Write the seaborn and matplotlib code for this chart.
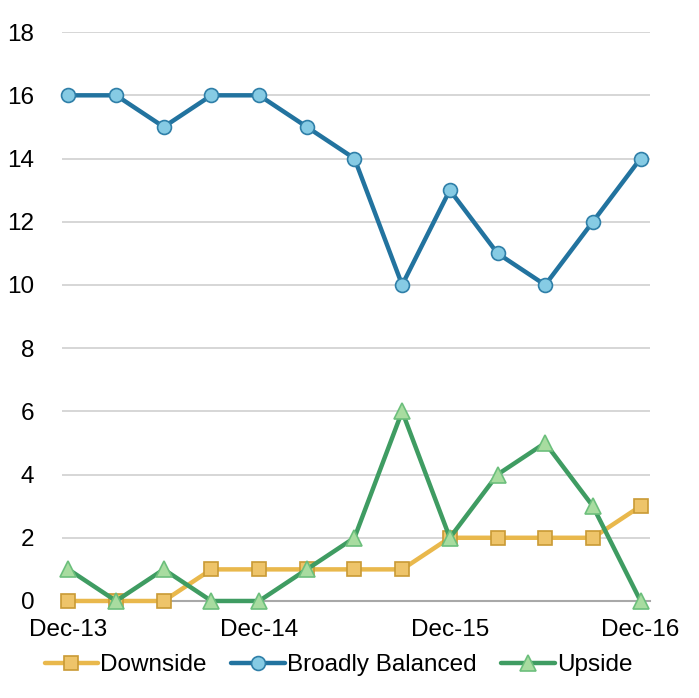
import numpy as np
import pandas as pd
import seaborn as sns
import matplotlib.pyplot as plt

# Data
quarters = ['Dec-13', 'Mar-14', 'Jun-14', 'Sep-14', 'Dec-14', 'Mar-15', 'Jun-15',
            'Sep-15', 'Dec-15', 'Mar-16', 'Jun-16', 'Sep-16', 'Dec-16']
downside = [0, 0, 0, 1, 1, 1, 1, 1, 2, 2, 2, 2, 3]
balanced = [16, 16, 15, 16, 16, 15, 14, 10, 13, 11, 10, 12, 14]
upside = [1, 0, 1, 0, 0, 1, 2, 6, 2, 4, 5, 3, 0]
tick_labels = ['Dec-13', 'Dec-14', 'Dec-15', 'Dec-16']

df = pd.DataFrame({'q': np.arange(len(quarters)),
                   'Downside': downside,
                   'Broadly Balanced': balanced,
                   'Upside': upside})

sns.set_style('white')
plt.rcParams['font.family'] = ['Liberation Sans', 'DejaVu Sans']
plt.rcParams['text.color'] = 'black'
plt.rcParams['xtick.color'] = 'black'
plt.rcParams['ytick.color'] = 'black'

fig = plt.figure(figsize=(6.99, 6.98), dpi=100)
ax = fig.add_axes([0.089, 0.139, 0.841, 0.815])

styles = {
    'Downside': dict(color='#e9b84c', marker='s', mfc='#eec46a', mec='#c99a35', ms=10),
    'Broadly Balanced': dict(color='#22739f', marker='o', mfc='#86cbe4', mec='#2f7fa8', ms=10),
    'Upside': dict(color='#3f9c62', marker='^', mfc='#a8dca0', mec='#6cbf7c', ms=11),
}
for name, st in styles.items():
    sns.lineplot(data=df, x='q', y=name, ax=ax, color=st['color'], linewidth=3.2,
                 marker=st['marker'], markersize=st['ms'], markerfacecolor=st['mfc'],
                 markeredgecolor=st['mec'], markeredgewidth=1.2, label=name,
                 clip_on=False, zorder=3)

ax.set_ylim(0, 18)
ax.set_yticks(range(0, 19, 2))
ax.set_xlim(-0.13, 12.2)
ax.set_xticks([0, 4, 8, 12])
ax.set_xticklabels(tick_labels)
ax.yaxis.grid(True, color='#cfcfcf', linewidth=1.2)
ax.set_axisbelow(True)
for s in ['top', 'right', 'left']:
    ax.spines[s].set_visible(False)
ax.spines['bottom'].set_color('#a8a8a8')
ax.spines['bottom'].set_linewidth(1.5)
ax.tick_params(axis='x', length=5, color='#a8a8a8', labelsize=17.5, labelcolor='black', pad=8)
ax.tick_params(axis='y', length=0, labelsize=17.5, labelcolor='black', pad=20)
ax.set_xlabel('')
ax.set_ylabel('')

leg = ax.legend(loc='upper center', bbox_to_anchor=(0.47, -0.055), ncol=3, frameon=False,
                fontsize=17.5, handlelength=2.2, handletextpad=0.1, columnspacing=1.0)

fig.savefig('out.png', dpi=100)
